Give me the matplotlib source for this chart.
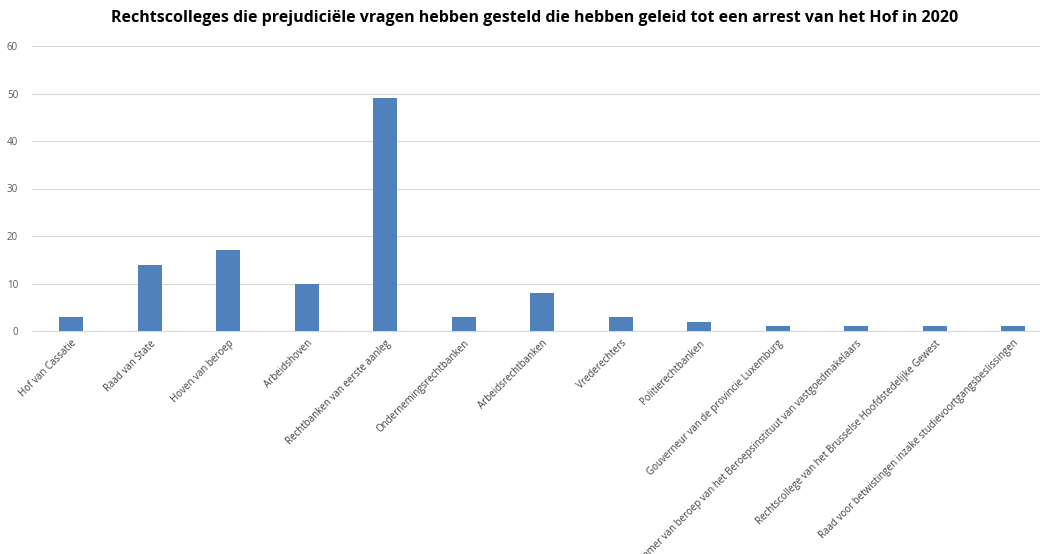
import matplotlib
matplotlib.use("Agg")
import matplotlib.pyplot as plt

categories = ["Hof van Cassatie", "Raad van State", "Hoven van beroep", "Arbeidshoven",
              "Rechtbanken van eerste aanleg", "Ondernemingsrechtbanken", "Arbeidsrechtbanken",
              "Vrederechters", "Politierechtbanken", "Gouverneur van de provincie Luxemburg",
              "Kamer van beroep van het Beroepsinstituut van vastgoedmakelaars",
              "Rechtscollege van het Brusselse Hoofdstedelijke Gewest",
              "Raad voor betwistingen inzake studievoortgangsbeslissingen"]
values = [3, 14, 17, 10, 49, 3, 8, 3, 2, 1, 1, 1, 1]
yticks = [0, 10, 20, 30, 40, 50, 60]
title = "Rechtscolleges die prejudiciële vragen hebben gesteld die hebben geleid tot een arrest van het Hof in 2020"

plt.rcParams['font.family'] = ['Open Sans', 'DejaVu Sans']

fig = plt.figure(figsize=(10.4, 5.54), dpi=100)
W, H = 1040, 554
left, right_px = 32, 32 + 13 * 78.5
top, bottom = 46, 331
ax = fig.add_axes([left / W, 1 - bottom / H, (right_px - left) / W, (bottom - top) / H])

x = list(range(len(categories)))
ax.bar(x, values, width=0.31, color="#4f81bd", zorder=3)
ax.set_xlim(-0.5, len(categories) - 0.5)
ax.set_ylim(0, 60)
ax.set_yticks(yticks)
ax.set_yticklabels([str(t) for t in yticks], fontsize=7, color="#595959")
ax.yaxis.grid(True, color="#d9d9d9", linewidth=0.8, zorder=0)
ax.tick_params(axis='y', length=0, pad=10)
ax.tick_params(axis='x', length=0, pad=5)
for s in ["left", "right", "top"]:
    ax.spines[s].set_visible(False)
ax.spines["bottom"].set_color("#d9d9d9")
ax.set_xticks(x)
ax.set_xticklabels(categories, rotation=45, ha="right", rotation_mode="anchor",
                   fontsize=7, color="#404040")

fig.text(535 / W, 1 - 18 / H, title, ha="center", va="center", fontsize=11.5, fontweight="bold",
         color="#000000")

fig.savefig("out.png", dpi=100, facecolor="white")
